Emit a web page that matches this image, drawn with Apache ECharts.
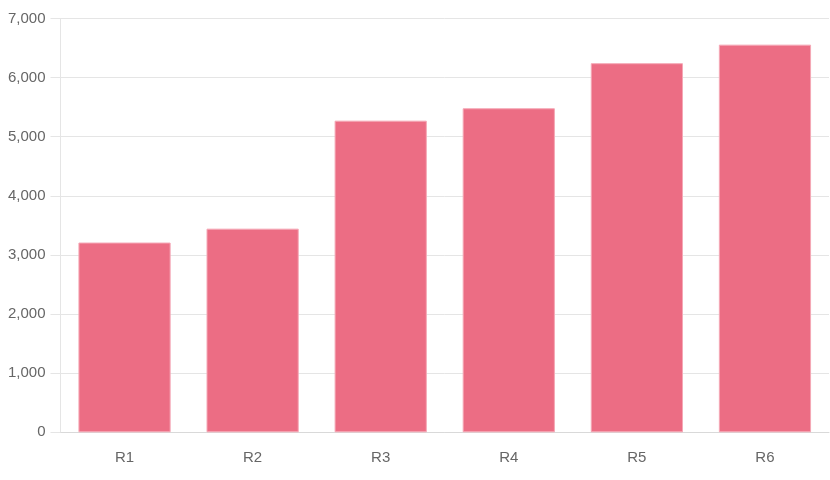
<!DOCTYPE html>
<html>
<head>
<meta charset="utf-8">
<script src="https://cdn.jsdelivr.net/npm/echarts@6/dist/echarts.min.js"></script>
<style>
  html, body { margin: 0; padding: 0; background: #fff; }
  #chart { width: 830px; height: 480px; }
</style>
</head>
<body>
<div id="chart"></div>
<script>
const categories = ['R1', 'R2', 'R3', 'R4', 'R5', 'R6']
const values = [3210, 3445, 5272, 5482, 6244, 6558]
const yTicks = { min: 0, max: 7000, interval: 1000 }

const chart = echarts.init(document.getElementById('chart'))

const labelFont = 'Helvetica, Arial, "Liberation Sans", sans-serif'

chart.setOption({
  animation: false,
  grid: { left: 60.5, right: 1, top: 18.5, bottom: 47.7, containLabel: false },
  xAxis: {
    type: 'category',
    data: categories,
    axisLine: { show: true, lineStyle: { color: '#d9d9d9', width: 1 } },
    axisTick: { show: false },
    axisLabel: { color: '#666', fontSize: 15, fontFamily: labelFont, margin: 18 },
    splitLine: { show: false }
  },
  yAxis: {
    type: 'value',
    min: yTicks.min,
    max: yTicks.max,
    interval: yTicks.interval,
    axisLine: { show: true, lineStyle: { color: '#e5e5e5', width: 1 } },
    axisTick: { show: true, length: 10, lineStyle: { color: '#e5e5e5' } },
    axisLabel: {
      color: '#666',
      fontSize: 15,
      fontFamily: labelFont,
      margin: 15,
      formatter: v => v.toLocaleString('en-US')
    },
    splitLine: { show: true, lineStyle: { color: '#e5e5e5', width: 1 } }
  },
  series: [
    {
      type: 'bar',
      data: values,
      barWidth: '72%',
      itemStyle: {
        color: '#ec6d84',
        borderColor: '#f5a8b6',
        borderWidth: 1
      }
    }
  ]
})
</script>
</body>
</html>
